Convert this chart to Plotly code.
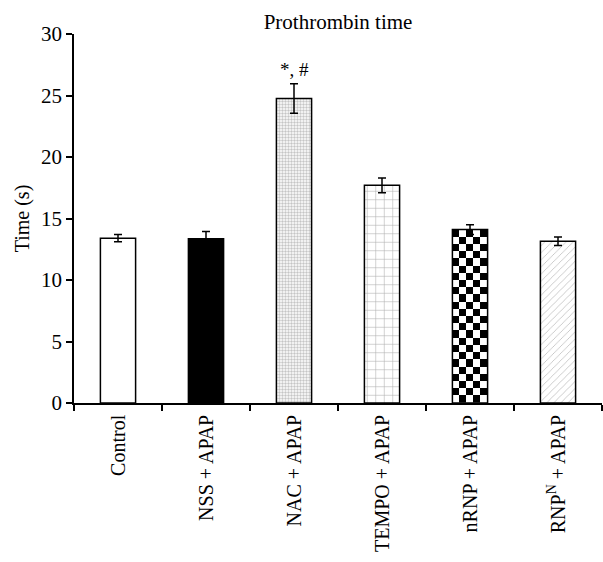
import plotly.graph_objects as go
import numpy as np

categories = ["Control", "NSS + APAP", "NAC + APAP", "TEMPO + APAP", "nRNP + APAP", "RNP<sup>N</sup> + APAP"]
values = [13.4, 13.35, 24.75, 17.7, 14.1, 13.15]
errors = [0.3, 0.6, 1.2, 0.6, 0.4, 0.35]
y_ticks = [0, 5, 10, 15, 20, 25, 30]
annot_text = "*, #"
annot_index = 2

FONT = "Liberation Serif, Times New Roman, serif"
BW = 0.4
idx = list(range(len(categories)))

fills = ["white", "black", "white", "white", "rgba(0,0,0,0)", "white"]
patterns = [
    dict(shape=""),
    dict(shape=""),
    dict(shape=".", size=3, solidity=0.5, fgcolor="#8c8c8c", bgcolor="white", fillmode="overlay"),
    dict(shape="+", size=8.5, solidity=0.12, fgcolor="#555555", bgcolor="white", fillmode="overlay"),
    dict(shape=""),
    dict(shape="/", size=5, solidity=0.15, fgcolor="#777777", bgcolor="white", fillmode="overlay"),
]

fig = go.Figure()

# checkerboard for nRNP bar (index 4), computed from its value
ci = 4
ncols = 5
nrows = int(round(values[ci] / 0.58))
xe = np.linspace(idx[ci] - BW / 2, idx[ci] + BW / 2, ncols + 1)
ye = np.linspace(0, values[ci], nrows + 1)
z = [[(r + c + 1) % 2 for c in range(ncols)] for r in range(nrows)]
z = z[::-1] if (nrows % 2 == 0) else z
fig.add_trace(go.Heatmap(x=xe, y=ye, z=z, colorscale=[[0, "white"], [1, "black"]],
                         showscale=False, zmin=0, zmax=1, hoverinfo="skip"))

for i in idx:
    fig.add_trace(go.Bar(
        x=[i], y=[values[i]], width=BW,
        marker=dict(color=fills[i], line=dict(color="black", width=1.5), pattern=patterns[i]),
        error_y=dict(type="data", array=[errors[i]], color="black", thickness=1.5, width=4),
        showlegend=False,
    ))

fig.add_annotation(x=idx[annot_index], y=values[annot_index] + errors[annot_index],
                   text=annot_text, showarrow=False, yanchor="bottom", yshift=2,
                   font=dict(family=FONT, size=19, color="black"))

fig.update_layout(
    width=603, height=562,
    margin=dict(l=74, r=1, t=34, b=159),
    plot_bgcolor="white", paper_bgcolor="white",
    title=dict(text="Prothrombin time", x=0.5 * (74 + 602) / 603, xanchor="center",
               y=1 - 22 / 562, yanchor="middle",
               font=dict(family=FONT, size=21, color="black")),
    font=dict(family=FONT, size=20, color="black"),
    bargap=0.6,
)
fig.update_xaxes(
    range=[-0.5, len(categories) - 0.5],
    tickvals=idx, ticktext=categories, tickangle=-90, ticks="",
    minor=dict(ticks="outside", tick0=0.5, dtick=1, ticklen=6, tickcolor="black", tickwidth=1.5),
    showline=True, linecolor="black", linewidth=1.5, showgrid=False, zeroline=False,
    tickfont=dict(family=FONT, size=20, color="black"), ticklabelstandoff=2,
)
fig.update_yaxes(
    range=[0, 30], tickvals=y_ticks, ticks="outside", ticklen=6, tickcolor="black", tickwidth=1.5,
    showline=True, linecolor="black", linewidth=1.5, showgrid=False, zeroline=False,
    title=dict(text="Time (s)", font=dict(family=FONT, size=20, color="black"), standoff=6),
    tickfont=dict(family=FONT, size=21, color="black"),
)

fig.write_html("out.html")
